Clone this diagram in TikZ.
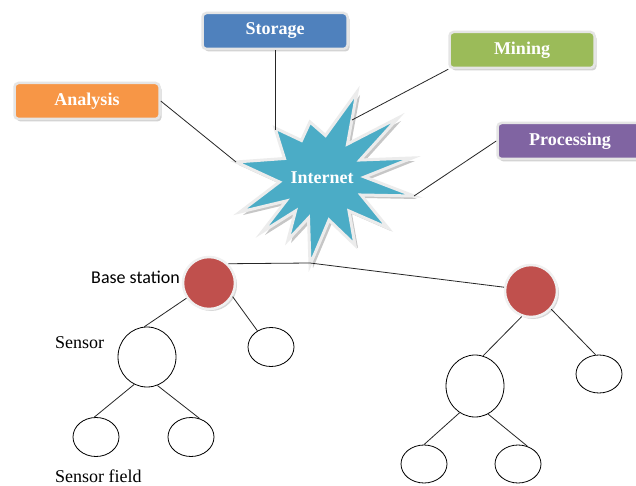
\documentclass[tikz,border=0pt]{standalone}
\usepackage{fontspec}
\setmainfont{Liberation Serif}
\newfontfamily\calfont{Carlito}
\usetikzlibrary{shapes.geometric,shadows}
\definecolor{cstorage}{HTML}{4F81BD}
\definecolor{cmining}{HTML}{9BBB59}
\definecolor{canalysis}{HTML}{F79646}
\definecolor{cprocess}{HTML}{8064A2}
\definecolor{cburst}{HTML}{4BACC6}
\definecolor{cbase}{HTML}{C0504D}
\begin{document}
\begin{tikzpicture}[x=1pt,y=-1pt,
  box/.style={rectangle, rounded corners=4pt, minimum width=145pt, minimum height=36pt,
    draw=gray!20, line width=2.5pt, text=white, font=\fontsize{18}{20}\selectfont\bfseries,
    drop shadow={shadow xshift=2pt,shadow yshift=-2.5pt,fill=gray!70}},
  basest/.style={circle, minimum size=52pt, inner sep=0pt, fill=cbase, draw=gray!12,
    line width=2.5pt, drop shadow={shadow xshift=2pt,shadow yshift=-2pt,fill=gray!60}},
  sens/.style={ellipse, draw=black, line width=0.8pt, inner sep=0pt},
  lbl/.style={font=\fontsize{18}{20}\selectfont, inner sep=0pt},
  link/.style={draw=black!85, line width=0.8pt}]
\clip (0,0) rectangle (636,486);
\fill[white] (0,0) rectangle (636,486);

% burst shadow
\begin{scope}[shift={(3,3)}]
\fill[gray!45] (357,92) -- (347.5,144) -- (398,118) -- (360,160) -- (412,158) -- (364.5,177) -- (414,196) -- (361,195) -- (388,228) -- (349,211) -- (355,245) -- (329,220) -- (310,265) -- (308.5,218) -- (288,240) -- (295.5,211) -- (262,232) -- (286,201) -- (240,212) -- (279.5,182) -- (236,162) -- (284.5,158.5) -- (275,128) -- (301.5,140.5) -- (310,122) -- (325.5,135.5) -- cycle;
\end{scope}
% burst
\draw[fill=cburst, draw=gray!15, line width=3pt, line join=miter, miter limit=20]
 (357,92) -- (347.5,144) -- (398,118) -- (360,160) -- (412,158) -- (364.5,177) -- (414,196) -- (361,195) -- (388,228) -- (349,211) -- (355,245) -- (329,220) -- (310,265) -- (308.5,218) -- (288,240) -- (295.5,211) -- (262,232) -- (286,201) -- (240,212) -- (279.5,182) -- (236,162) -- (284.5,158.5) -- (275,128) -- (301.5,140.5) -- (310,122) -- (325.5,135.5) -- cycle;
\node[text=white, font=\fontsize{18}{20}\selectfont\bfseries] (inet) at (322,178) {Internet};

\coordinate (tA) at (236,162);
\coordinate (tS) at (275,130);
\coordinate (tM) at (352,120);
\coordinate (tP) at (414,196);
\coordinate (tB) at (310,263);

% boxes
\node[box, fill=cstorage] (st) at (275,31) {Storage};
\node[box, fill=cmining] (mi) at (522,50) {Mining};
\node[box, fill=canalysis] (an) at (87,101) {Analysis};
\node[box, fill=cprocess] (pr) at (570,141) {Processing};

\draw[link] (st.south) -- (tS);
\draw[link] (an.east) -- (tA);
\draw[link] (mi.south west) -- (tM);
\draw[link] (pr.west) -- (tP);

% base stations
\node[basest] (bs1) at (209,283) {};
\node[basest] (bs2) at (531,291) {};
\draw[link] (bs1.45) -- (tB) -- (bs2.172);

% sensors tree 1
\node[sens, minimum width=58pt, minimum height=60pt] (s1) at (147,357) {};
\node[sens, minimum width=46pt, minimum height=39pt] (r1) at (271,347) {};
\node[sens, minimum width=46pt, minimum height=39pt] (l1) at (96,437) {};
\node[sens, minimum width=46pt, minimum height=39pt] (l2) at (191,437) {};
\draw[link] (bs1.214) -- (s1.95);
\draw[link] (bs1.330) -- (r1.130);
\draw[link] (s1.245) -- (l1.95);
\draw[link] (s1.290) -- (l2.65);

% sensors tree 2
\node[sens, minimum width=58pt, minimum height=62pt] (s2) at (475,386) {};
\node[sens, minimum width=46pt, minimum height=38pt] (r2) at (599,374) {};
\node[sens, minimum width=46pt, minimum height=38pt] (b1) at (424,464) {};
\node[sens, minimum width=46pt, minimum height=38pt] (b2) at (518,464) {};
\draw[link] (bs2.250) -- (s2.75);
\draw[link] (bs2.318) -- (r2.100);
\draw[link] (s2.240) -- (b1.90);
\draw[link] (s2.295) -- (b2.62);

% labels
\node[lbl, anchor=east, font=\calfont\fontsize{18}{20}\selectfont] (lbs) at (180,277) {Base station};
\node[lbl, anchor=west] (lsen) at (55,343) {Sensor};
\node[lbl, anchor=west] (lsf) at (55,476) {Sensor field};
\end{tikzpicture}
\end{document}
